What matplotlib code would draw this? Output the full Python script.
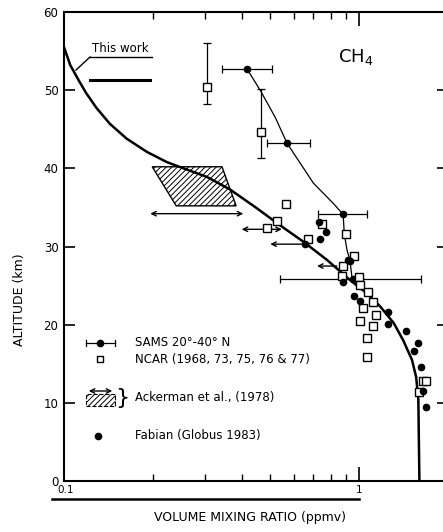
import matplotlib
matplotlib.use("Agg")
import matplotlib.pyplot as plt
from matplotlib.lines import Line2D
from matplotlib.patches import Rectangle, Polygon, FancyArrowPatch
import matplotlib.transforms as mtransforms
import numpy as np

# --- data ---
# model curve "This work"
work_vmr = [0.1, 0.105, 0.112, 0.119, 0.129, 0.143, 0.163, 0.191, 0.223, 0.254, 0.305,
            0.365, 0.450, 0.540, 0.648, 0.777, 0.932, 1.062, 1.18, 1.31, 1.41, 1.51,
            1.56, 1.587, 1.60]
work_alt = [55.5, 53.2, 51.3, 49.6, 47.7, 45.7, 43.8, 42.1, 40.8, 40.0, 38.9,
            37.3, 34.9, 32.7, 30.6, 28.3, 25.7, 24.0, 22.3, 20.2, 18.0, 15.5,
            13.3, 10.4, 0.0]

# SAMS 20-40 N (points with horizontal error bars) and its thin connecting line
sams_vmr = [0.417, 0.570, 0.883, 0.95]
sams_alt = [52.7, 43.2, 34.1, 25.9]
sams_lo = [0.343, 0.488, 0.726, 0.54]
sams_hi = [0.506, 0.681, 1.06, 1.62]
sams_line_vmr = [0.417, 0.462, 0.520, 0.570, 0.591, 0.700, 0.818, 0.883, 0.89, 0.91, 0.93, 0.946]
sams_line_alt = [52.7, 50.0, 46.5, 43.2, 42.3, 38.1, 35.5, 34.1, 31.7, 29.5, 28.3, 26.0]

# NCAR balloon data (open squares)
ncar_vmr = [0.305, 0.465, 0.566, 0.527, 0.486, 0.673, 0.749, 0.903, 0.962, 0.885, 0.875,
            1.00, 1.01, 1.07, 1.11, 1.03, 1.14, 1.01, 1.11, 1.06, 1.06, 1.64, 1.69, 1.60]
ncar_alt = [50.4, 44.6, 35.5, 33.2, 32.4, 31.0, 32.9, 31.6, 28.8, 27.5, 26.2,
            26.1, 25.1, 24.2, 22.9, 22.1, 21.2, 20.5, 19.8, 18.3, 15.9, 12.8, 12.8, 11.4]
ncar_err_vmr = [0.305, 0.465]
ncar_err_lo = [48.2, 41.3]
ncar_err_hi = [56.0, 50.2]

# Fabian (Globus 1983), filled dots
fab_vmr = [0.731, 0.77, 0.737, 0.655, 0.93, 0.92, 0.883, 0.962, 1.01, 1.25, 1.25, 1.44,
           1.58, 1.53, 1.62, 1.65, 1.69]
fab_alt = [33.1, 31.8, 31.0, 30.3, 28.1, 28.3, 25.4, 23.7, 23.0, 21.6, 20.1, 19.2,
           17.7, 16.6, 14.6, 11.5, 9.5]

# Ackerman et al. (1978): arrows and hatched area
ack_lo = [0.196, 0.40, 0.50, 0.72]
ack_hi = [0.405, 0.547, 0.655, 0.84]
ack_alt = [34.2, 32.2, 30.3, 27.5]
ack_style = ["<->", "<->", "->", "->"]
ack_box_vmr = [0.199, 0.343, 0.383, 0.240]
ack_box_alt = [40.2, 40.2, 35.2, 35.2]

W, H = 443, 532
plt.rcParams["hatch.linewidth"] = 0.7
fig = plt.figure(figsize=(W / 100, H / 100), dpi=100)


def px(x, y):
    return x / W, 1 - y / H


ax = fig.add_axes([64 / W, 1 - 481 / H, (448 - 64) / W, (481 - 12) / H])
ax.set_xscale("log")
ax.set_xlim(0.1, 2.0)
ax.set_ylim(0, 60)

# hatched Ackerman region
ax.add_patch(Polygon(list(zip(ack_box_vmr, ack_box_alt)), closed=True, facecolor="white",
                     edgecolor="black", hatch="//////", lw=1, zorder=2))

ax.plot(work_vmr, work_alt, color="black", lw=1.8, zorder=3)
ax.plot(sams_line_vmr, sams_line_alt, color="black", lw=0.9, zorder=3)

xerr = [np.array(sams_vmr) - np.array(sams_lo), np.array(sams_hi) - np.array(sams_vmr)]
ax.errorbar(sams_vmr, sams_alt, xerr=xerr, fmt="o", color="black", ms=4.5,
            elinewidth=0.9, capsize=3, capthick=0.9, zorder=4)

yerr_mid = [(a + b) / 2 for a, b in zip(ncar_err_lo, ncar_err_hi)]
ax.errorbar(ncar_err_vmr, yerr_mid,
            yerr=[np.array(yerr_mid) - np.array(ncar_err_lo), np.array(ncar_err_hi) - np.array(yerr_mid)],
            fmt="none", ecolor="black", elinewidth=0.9, capsize=3, capthick=0.9, zorder=3)
ax.plot(ncar_vmr, ncar_alt, "s", mfc="white", mec="black", mew=1.0, ms=5.2, ls="none", zorder=5)
ax.plot(fab_vmr, fab_alt, "o", color="black", ms=4.5, ls="none", zorder=5)

for lo, hi, alt, st in zip(ack_lo, ack_hi, ack_alt, ack_style):
    ax.annotate("", xy=(lo, alt), xytext=(hi, alt),
                arrowprops=dict(arrowstyle=st, lw=1.0, color="black", mutation_scale=8,
                                shrinkA=0, shrinkB=0), zorder=4)

# axes styling
for s in ax.spines.values():
    s.set_linewidth(1.5)
ax.set_yticks([0, 10, 20, 30, 40, 50, 60])
ax.tick_params(axis="y", which="major", direction="in", length=8, width=1.2,
               left=True, right=True, labelsize=8.5, pad=4)
ax.set_xticks([1])
ax.set_xticks([0.2, 0.3, 0.4, 0.5, 0.6, 0.7, 0.8, 0.9], minor=True)
ax.tick_params(axis="x", which="major", direction="in", length=10, width=1.2,
               top=True, bottom=True, labelbottom=False)
ax.tick_params(axis="x", which="minor", direction="in", length=5, width=1.0,
               top=True, bottom=True, labelbottom=False)

# decade bar with labels under the axis
trans = mtransforms.blended_transform_factory(ax.transData, fig.transFigure)
fig.add_artist(Line2D([0.091, 1.0], [1 - 499 / H] * 2, transform=trans, color="black",
                      lw=1.8, clip_on=False))
fig.text(66 / W, 1 - 495 / H, "0.1", fontsize=7.5, ha="center", va="bottom")
fig.text(359 / W, 1 - 495 / H, "1", fontsize=7.5, ha="center", va="bottom")

fig.text(*px(250, 518), "VOLUME MIXING RATIO (ppmv)", fontsize=9, ha="center", va="center")
fig.text(*px(20, 300), "ALTITUDE (km)", fontsize=9, ha="center", va="center", rotation=90)
fig.text(*px(338, 57), "CH$_4$", fontsize=13, ha="left", va="center")

# "This work" label
fig.text(*px(92, 55), "This work", fontsize=8.5, ha="left", va="bottom")
fig.add_artist(Line2D([90 / W, 152 / W], [1 - 57 / H] * 2, color="black", lw=1.0))
fig.add_artist(Line2D([90 / W, 76 / W], [1 - 57 / H, 1 - 70 / H], color="black", lw=1.0))
fig.add_artist(Line2D([90 / W, 150 / W], [1 - 80 / H] * 2, color="black", lw=2.2))

# hand drawn legend
fig.add_artist(Line2D([86 / W, 115 / W], [1 - 343 / H] * 2, color="black", lw=0.9))
fig.add_artist(Line2D([86 / W] * 2, [1 - 340 / H, 1 - 346 / H], color="black", lw=0.9))
fig.add_artist(Line2D([115 / W] * 2, [1 - 340 / H, 1 - 346 / H], color="black", lw=0.9))
fig.add_artist(Line2D([100 / W], [1 - 343 / H], marker="o", color="black", ms=4.5))
fig.text(*px(135, 343), "SAMS 20°-40° N", fontsize=8.5, ha="left", va="center")

fig.add_artist(Line2D([100 / W], [1 - 359 / H], marker="s", mfc="white", mec="black",
                      mew=1.0, ms=4.5))
fig.text(*px(135, 359), "NCAR (1968, 73, 75, 76 & 77)", fontsize=8.5, ha="left", va="center")

fig.add_artist(FancyArrowPatch(px(86, 391), px(115, 391), transform=fig.transFigure,
                               arrowstyle="<->", mutation_scale=8, lw=1.0, color="black"))
fig.add_artist(Rectangle(px(86, 406), 29 / W, 12 / H, transform=fig.transFigure,
                         facecolor="white", edgecolor="black", hatch="//////", lw=0.8,
                         linestyle="--"))
fig.text(*px(122, 398), "}", fontsize=16, ha="center", va="center")
fig.text(*px(135, 398), "Ackerman et al., (1978)", fontsize=8.5, ha="left", va="center")

fig.add_artist(Line2D([98 / W], [1 - 436 / H], marker="o", color="black", ms=4.5))
fig.text(*px(135, 436), "Fabian (Globus 1983)", fontsize=8.5, ha="left", va="center")

fig.savefig("out.png", dpi=100)
